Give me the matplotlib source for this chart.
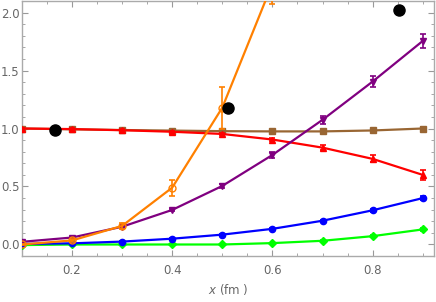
import matplotlib
matplotlib.use("Agg")
import matplotlib.pyplot as plt
from matplotlib.ticker import MultipleLocator
import numpy as np

x = [0.1, 0.2, 0.3, 0.4, 0.5, 0.6, 0.7, 0.8, 0.9]

red = [1.0, 0.995, 0.985, 0.972, 0.953, 0.905, 0.835, 0.738, 0.60]
red_err = [0.005, 0.006, 0.008, 0.01, 0.012, 0.015, 0.02, 0.03, 0.045]

brown = [1.0, 0.993, 0.987, 0.982, 0.977, 0.975, 0.975, 0.983, 1.0]
brown_err = [0.004, 0.004, 0.005, 0.006, 0.007, 0.008, 0.009, 0.01, 0.012]

purple = [0.023, 0.06, 0.153, 0.298, 0.505, 0.772, 1.075, 1.405, 1.755]
purple_err = [0.005, 0.007, 0.01, 0.012, 0.018, 0.025, 0.035, 0.045, 0.06]

orange_x = [0.1, 0.2, 0.3, 0.4, 0.5, 0.6, 0.7]
orange = [0.0, 0.035, 0.16, 0.49, 1.18, 2.25, 3.6]
orange_err = [0.005, 0.01, 0.025, 0.07, 0.18, 0.18, 0.3]

blue = [0.005, 0.01, 0.025, 0.05, 0.085, 0.135, 0.205, 0.295, 0.40]
blue_err = [0.002, 0.003, 0.004, 0.005, 0.006, 0.008, 0.01, 0.012, 0.02]

green = [-0.005, 0.0, 0.0, 0.0, 0.0, 0.012, 0.032, 0.072, 0.13]
green_err = [0.002, 0.002, 0.002, 0.003, 0.003, 0.004, 0.005, 0.006, 0.01]

black_x = [0.166, 0.511, 0.852]
black_y = [0.99, 1.174, 2.025]

fig = plt.figure(figsize=(4.36, 3.02), dpi=100)
ax = fig.add_axes([0.05, 0.152, 0.945, 0.845])

common = dict(capsize=2.2, elinewidth=1.2, capthick=1.2, lw=1.6, ms=4.5, clip_on=True)
ax.errorbar(x, green, yerr=green_err, color="#00ff00", marker="D", ms=4, lw=1.6,
            capsize=2.2, elinewidth=1.2, capthick=1.2, zorder=3)
ax.errorbar(x, blue, yerr=blue_err, color="#0000ff", marker="o", **common, zorder=3)
ax.errorbar(x, brown, yerr=brown_err, color="#996633", marker="s", ms=4, lw=1.6,
            capsize=2.2, elinewidth=1.2, capthick=1.2, zorder=3)
ax.errorbar(x, red, yerr=red_err, color="#ff0000", marker="^", **common, zorder=4)
ax.errorbar(x, purple, yerr=purple_err, color="#800080", marker="v", **common, zorder=4)
ax.errorbar(orange_x, orange, yerr=orange_err, color="#ff8000", marker="o", mfc="none",
            capsize=2.2, elinewidth=1.2, capthick=1.2, lw=1.6, ms=5, zorder=5)
ax.plot(black_x, black_y, "o", color="black", ms=8, zorder=6, linestyle="none")

ax.set_xlim(0.1, 0.922)
ax.set_ylim(-0.10, 2.10)

ax.xaxis.set_major_locator(MultipleLocator(0.2))
ax.xaxis.set_minor_locator(MultipleLocator(0.05))
ax.yaxis.set_major_locator(MultipleLocator(0.5))
ax.yaxis.set_minor_locator(MultipleLocator(0.1))
ax.xaxis.set_major_formatter(plt.FuncFormatter(lambda v, p: f"{v:.1f}"))
ax.yaxis.set_major_formatter(plt.FuncFormatter(lambda v, p: f"{v:.1f}"))

gray = "#999999"
for s in ax.spines.values():
    s.set_color("#aaaaaa")
    s.set_linewidth(1.0)
ax.tick_params(which="both", direction="in", top=True, right=True, colors=gray,
               labelcolor="#666666", labelsize=8.5)
ax.tick_params(which="major", length=4, width=0.8)
ax.tick_params(which="minor", length=2.5, width=0.6)
ax.tick_params(axis="y", pad=1.5)
ax.tick_params(axis="x", pad=6)

ax.set_xlabel(r"$x$ (fm )", color="#666666", fontsize=8.5, labelpad=3)

fig.savefig("out.png", dpi=100)
